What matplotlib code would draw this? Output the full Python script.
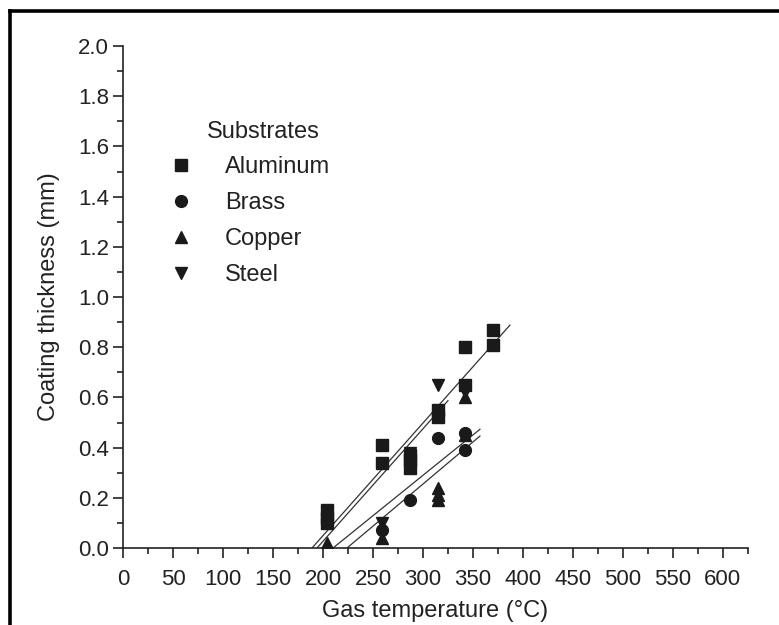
import matplotlib.pyplot as plt
from matplotlib.lines import Line2D
import numpy as np

plt.rcParams['font.family'] = ['Liberation Sans', 'DejaVu Sans']

# Data (gas temperature in C, coating thickness in mm)
al_t = [204, 204, 204, 259, 259, 287, 287, 287, 315, 315, 342, 342, 370, 370]
al_y = [0.15, 0.12, 0.10, 0.41, 0.34, 0.37, 0.35, 0.32, 0.55, 0.52, 0.80, 0.65, 0.87, 0.81]

brass_t = [259, 287, 315, 342, 342]
brass_y = [0.07, 0.19, 0.44, 0.46, 0.39]

cu_t = [204, 259, 315, 315, 315, 342, 342]
cu_y = [0.02, 0.04, 0.24, 0.21, 0.19, 0.60, 0.45]

steel_t = [204, 259, 287, 315, 342]
steel_y = [0.14, 0.10, 0.38, 0.65, 0.62]

# fitted lines: (start temp, end temp, end thickness)
fit_t0 = [189, 194, 210, 224]
fit_t1 = [387, 325, 357, 357]
fit_y1 = [0.888, 0.587, 0.473, 0.446]

fig = plt.figure(figsize=(7.79, 6.25), dpi=100)
ax = fig.add_axes([0.158, 0.1232, 0.802, 0.8032])

col = '#1a1a1a'
for t0, t1, y1 in zip(fit_t0, fit_t1, fit_y1):
    ax.plot([t0, t1], [0, y1], color='#333333', lw=0.9, zorder=2)

ax.plot(al_t, al_y, 's', color=col, ms=8.5, ls='none', label='Aluminum', zorder=3)
ax.plot(brass_t, brass_y, 'o', color=col, ms=8.5, ls='none', label='Brass', zorder=3)
ax.plot(cu_t, cu_y, '^', color=col, ms=9, ls='none', label='Copper', zorder=3)
ax.plot(steel_t, steel_y, 'v', color=col, ms=9, ls='none', label='Steel', zorder=3)

ax.set_xlim(0, 625)
ax.set_ylim(0, 2.0)
ax.set_xticks(np.arange(0, 601, 50))
ax.set_xticks(np.arange(0, 626, 25), minor=True)
ax.set_yticks(np.arange(0, 2.01, 0.2))
ax.set_yticks(np.arange(0, 2.01, 0.1), minor=True)
ax.yaxis.set_major_formatter(plt.FormatStrFormatter('%.1f'))

for s in ['top', 'right']:
    ax.spines[s].set_visible(False)
for s in ['left', 'bottom']:
    ax.spines[s].set_linewidth(1.2)
    ax.spines[s].set_color('#222222')

ax.tick_params(which='major', direction='out', length=7, width=1.2, labelsize=16, colors='#222222')
ax.tick_params(which='minor', direction='out', length=4, width=1.2, colors='#222222')
ax.tick_params(axis='x', pad=8)
ax.tick_params(axis='y', pad=3)

ax.set_xlabel('Gas temperature (°C)', fontsize=17, labelpad=7, color='#222222')
ax.set_ylabel('Coating thickness (mm)', fontsize=17, labelpad=13, color='#222222')

# legend
ax.text(0.134, 0.829, 'Substrates', transform=ax.transAxes, fontsize=17,
        ha='left', va='center', color='#222222')
leg = ax.legend(loc='upper left', bbox_to_anchor=(0.0738, 0.780), frameon=False,
                fontsize=17, handlelength=1.0, handletextpad=1.36,
                labelspacing=0.59, borderaxespad=0, borderpad=0)
for txt in leg.get_texts():
    txt.set_color('#222222')

# black frame lines around the crop
fig.add_artist(Line2D([0.0128, 1.0], [0.9824, 0.9824], transform=fig.transFigure,
                      color='black', lw=2.6))
fig.add_artist(Line2D([0.0128, 0.0128], [0.0, 0.9824], transform=fig.transFigure,
                      color='black', lw=2.6))

fig.savefig('out.png', dpi=100)
